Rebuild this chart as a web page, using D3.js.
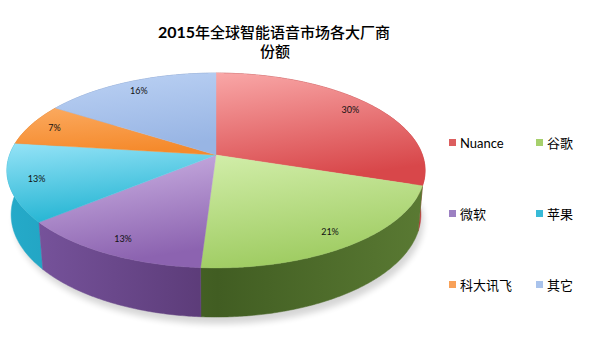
<!DOCTYPE html>
<html>
<head>
<meta charset="utf-8">
<script src="https://cdn.jsdelivr.net/npm/d3@7"></script>
<style>
body { margin: 0; background: #fff; }
svg { display: block; }
</style>
</head>
<body>
<svg id="chart" width="612" height="351"></svg>
<script>
// vendors and their share (%)
const vendors = ["Nuance", "谷歌", "微软", "苹果", "科大讯飞", "其它"];
const shares = [30, 21, 13, 13, 7, 16];
const titleLines = ["2015年全球智能语音市场各大厂商", "份额"];

// top face light / dark, wall light / dark, legend swatch
const topLight = ["#f9a7a7", "#d2eeaa", "#cfb6e6", "#95e3f7", "#fbaa60", "#bcd2f4"];
const topDark = ["#d8474a", "#9fcc62", "#8c63b0", "#25b5d3", "#f58a2c", "#98b5e4"];
const wallLight = ["#c23a3b", "#5a7a33", "#7a56a0", "#25aac9", "#e07a24", "#7f9ccc"];
const wallDark = ["#9e2a2c", "#415d22", "#5a3a76", "#1890ad", "#c0641a", "#6683b4"];
const swatch = ["#dc5e5f", "#a6d06c", "#9c80c2", "#38bad7", "#f8a159", "#a9c3ec"];

const svg = d3.select("#chart");
const defs = svg.append("defs");

// simple perspective camera looking down on the pie
const cx = 216, cy = 155;
const sinT = 0.46, cosT = 0.888;
const camD = 5.585, focal = 1153, thick = 0.243;

function proj(a, r, depth) {
	let u = r * Math.sin(a), v = -r * Math.cos(a);
	let z = camD - v * cosT + depth * sinT;
	let y = v * sinT + depth * cosT;
	return [cx + focal * u / z, cy + focal * y / z];
}

function arcPts(a0, a1, depth) {
	let n = Math.max(2, Math.ceil(Math.abs(a1 - a0) / 0.01));
	return d3.range(n + 1).map(i => proj(a0 + (a1 - a0) * i / n, 1, depth));
}

const line = d3.line();
const pie = d3.pie().sort(null).value(d => d);
const slices = pie(shares).map((d, i) => ({ ...d, i: i }));

// gradients
slices.forEach(d => {
	let g = defs.append("linearGradient").attr("id", "top" + d.i)
		.attr("x1", 0).attr("y1", 0).attr("x2", 0.25).attr("y2", 1);
	g.append("stop").attr("offset", "0%").attr("stop-color", topLight[d.i]);
	g.append("stop").attr("offset", "100%").attr("stop-color", topDark[d.i]);
	let w = defs.append("linearGradient").attr("id", "wall" + d.i)
		.attr("gradientUnits", "userSpaceOnUse")
		.attr("x1", 10).attr("y1", 0).attr("x2", 425).attr("y2", 0);
	w.append("stop").attr("offset", "0%").attr("stop-color", wallLight[d.i]);
	w.append("stop").attr("offset", "50%").attr("stop-color", wallDark[d.i]);
	w.append("stop").attr("offset", "100%").attr("stop-color", wallLight[d.i]);
});

defs.append("filter").attr("id", "blur")
	.attr("x", "-20%").attr("y", "-50%").attr("width", "140%").attr("height", "200%")
	.append("feGaussianBlur").attr("stdDeviation", 3);

// soft shadow under the pie
let shadow = arcPts(Math.PI / 2, 3 * Math.PI / 2, thick + 0.02);
svg.append("path")
	.attr("d", line(shadow) + "Z")
	.attr("fill", "#000")
	.attr("opacity", 0.16)
	.attr("transform", "translate(3,3)")
	.attr("filter", "url(#blur)");

// walls, back to front
const nearness = d => -Math.cos((d.startAngle + d.endAngle) / 2);
const wallOrder = slices.slice().sort((a, b) => nearness(a) - nearness(b));

svg.append("g").selectAll("path")
	.data(wallOrder)
	.join("path")
	.attr("d", d => {
		let topArc = arcPts(d.startAngle, d.endAngle, 0);
		let botArc = arcPts(d.endAngle, d.startAngle, thick);
		return line(topArc.concat(botArc)) + "Z";
	})
	.attr("fill", d => "url(#wall" + d.i + ")")
	.attr("stroke", d => "url(#wall" + d.i + ")")
	.attr("stroke-width", 0.5);

// top faces
svg.append("g").selectAll("path")
	.data(slices)
	.join("path")
	.attr("d", d => line([proj(0, 0, 0)].concat(arcPts(d.startAngle, d.endAngle, 0))) + "Z")
	.attr("fill", d => "url(#top" + d.i + ")")
	.attr("stroke", d => "url(#top" + d.i + ")")
	.attr("stroke-width", 0.4);

// percent labels
svg.append("g").selectAll("text")
	.data(slices)
	.join("text")
	.attr("x", d => proj((d.startAngle + d.endAngle) / 2, 0.87, 0)[0])
	.attr("y", d => proj((d.startAngle + d.endAngle) / 2, 0.87, 0)[1])
	.attr("dy", "0.35em")
	.attr("text-anchor", "middle")
	.attr("font-family", "Lato, 'Liberation Sans', sans-serif")
	.attr("font-size", 9)
	.attr("fill", "#111")
	.text(d => d.data + "%");

// title
let title = svg.append("text")
	.attr("text-anchor", "middle")
	.attr("font-family", "'Noto Sans CJK SC', sans-serif")
	.attr("font-size", 15)
	.attr("fill", "#000");
title.append("tspan").attr("x", 274).attr("y", 38)
	.attr("font-family", "Lato, sans-serif").attr("font-weight", "bold").attr("font-size", 16)
	.text(titleLines[0].slice(0, 4));
title.append("tspan").attr("font-weight", 500).text(titleLines[0].slice(4));
title.append("tspan").attr("x", 275).attr("y", 57).attr("font-weight", 500).text(titleLines[1]);

// legend
const legX = d3.scalePoint().domain([0, 1]).range([449, 536]);
const legY = d3.scalePoint().domain([0, 1, 2]).range([143, 285]);

let leg = svg.append("g").selectAll("g")
	.data(vendors)
	.join("g")
	.attr("transform", (d, i) => "translate(" + legX(i % 2) + "," + legY(Math.floor(i / 2)) + ")");

leg.append("rect")
	.attr("x", 0).attr("y", -4).attr("width", 7).attr("height", 7)
	.attr("fill", (d, i) => swatch[i]);

leg.append("text")
	.attr("x", 11).attr("y", 0).attr("dy", "0.36em")
	.attr("font-family", d => /^[A-Za-z]/.test(d) ? "Lato, sans-serif" : "'Noto Sans CJK SC', sans-serif")
	.attr("font-size", 13)
	.attr("fill", "#000")
	.text(d => d);
</script>
</body>
</html>
